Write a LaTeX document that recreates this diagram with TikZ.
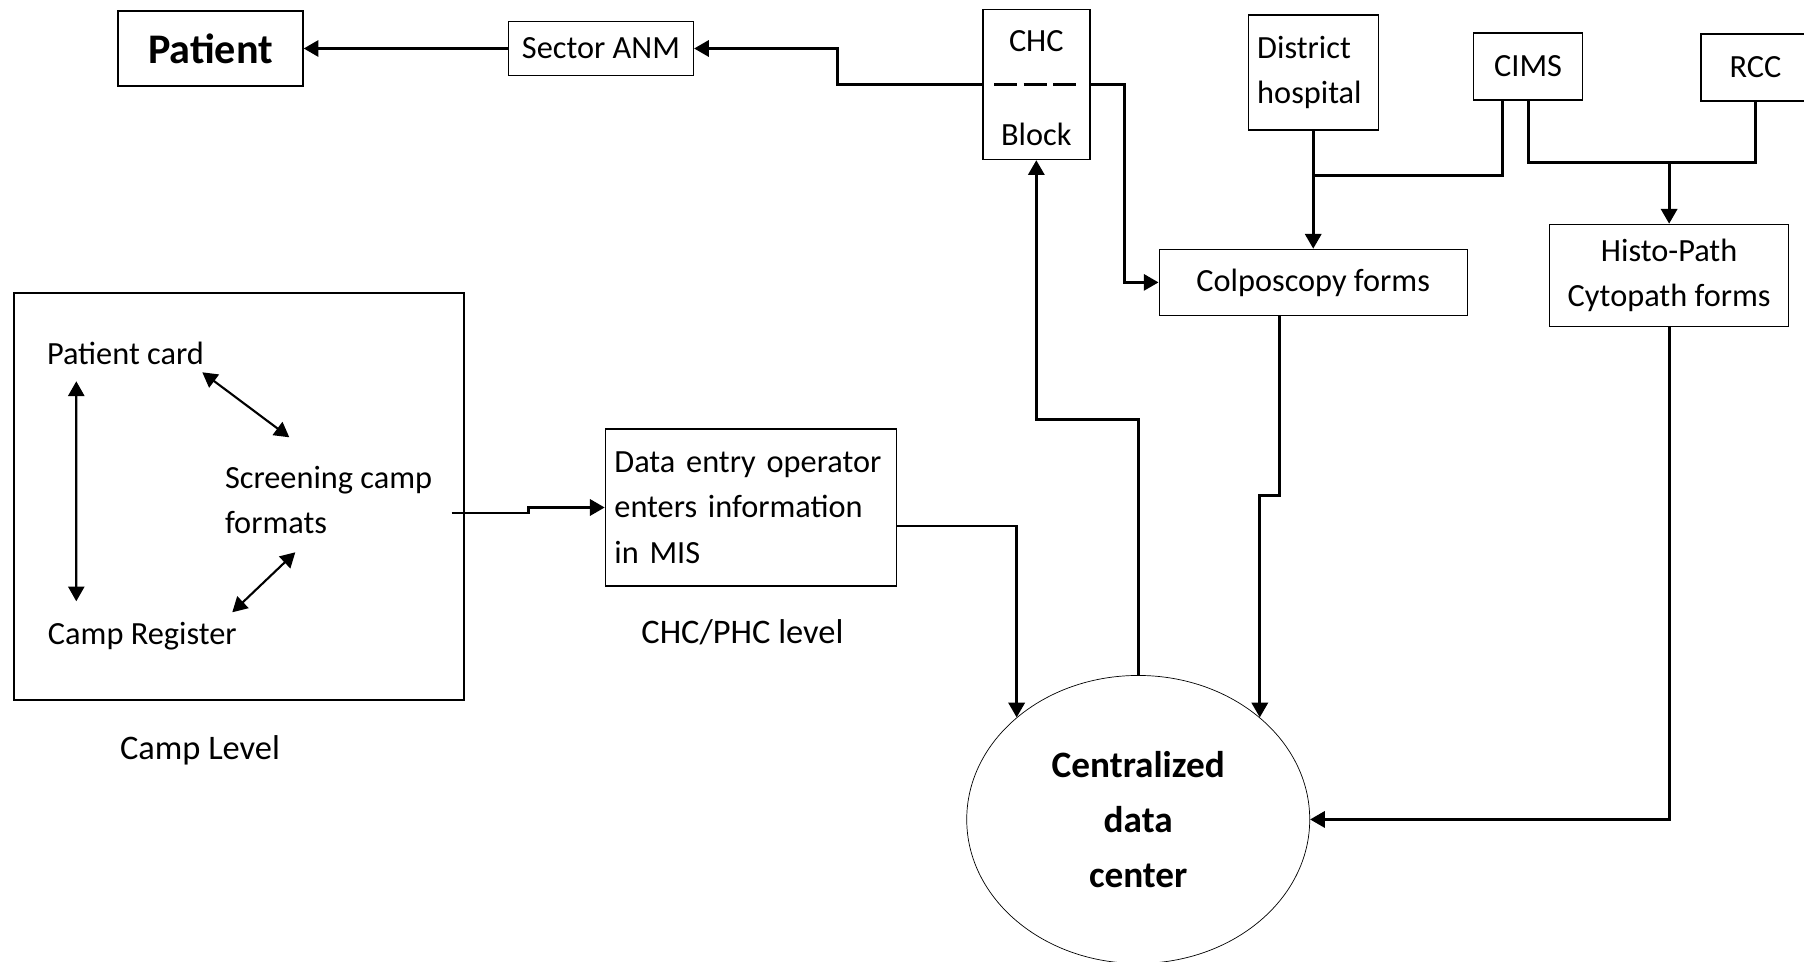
\documentclass[tikz,border=0pt]{standalone}
\usepackage{fontspec}
\setmainfont{Carlito}
\usetikzlibrary{shapes.geometric, arrows.meta, positioning}

\begin{document}
\begin{tikzpicture}[
    node distance=1cm,
    font=\fontsize{9.2}{12.7}\selectfont,
    >={Triangle[length=4.2pt,width=4.6pt]},
    box/.style={draw, thin, align=center, inner sep=0.5mm},
    txt/.style={inner sep=0pt, anchor=west, align=left},
    lvl/.style={font=\fontsize{9.8}{12}\selectfont},
    link/.style={thick},
    arrow/.style={->, thick},
    dblarrow/.style={<->, semithick}
]
\useasboundingbox (0,0) rectangle (18.04,-9.62);

% --- Top row ---
\node (patient) [box, minimum width=1.85cm, minimum height=0.75cm, font=\fontsize{12}{14}\selectfont\bfseries] at (2.105,-0.485) {Patient};
\node (sector) [box, minimum width=1.85cm, minimum height=0.54cm, right=2.04cm of patient] {Sector ANM};
\node (chc) [box, minimum width=1.07cm, minimum height=1.50cm, right=2.88cm of sector, yshift=-3.6mm] {};
\node (chctop) at ([yshift=4.3mm]chc.center) {CHC};
\node (chcbot) at ([yshift=-5mm]chc.center) {Block};
\node (district) [box, text width=1.12cm, align=left, minimum width=1.30cm, minimum height=1.15cm, right=1.57cm of chc, yshift=1.2mm] {District\\hospital};
\node (cims) [box, minimum width=1.09cm, minimum height=0.67cm, right=0.94cm of district, yshift=0.6mm] {CIMS};
\node (rcc) [box, minimum width=1.09cm, minimum height=0.67cm, right=1.17cm of cims, yshift=-0.1mm] {RCC};

% --- Forms ---
\node (colpo) [box, minimum width=3.08cm, minimum height=0.66cm, below=1.18cm of district] {Colposcopy forms};
\node (histo) [box, minimum width=2.39cm, minimum height=1.02cm, right=0.81cm of colpo, yshift=0.7mm] {Histo-Path\\Cytopath forms};

% --- Camp level ---
\node (camp) [box, minimum width=4.50cm, minimum height=4.07cm] at (2.39,-4.965) {};
\node (pcard) [txt] at ([shift={(0.33,-0.61)}]camp.north west) {Patient card};
\node (screen) [txt] at ([shift={(2.11,-2.08)}]camp.north west) {Screening camp\\formats};
\node (register) [txt] at ([shift={(0.34,-3.44)}]camp.north west) {Camp Register};
\node (camplevel) [lvl, below=0.22cm of camp, xshift=-3.9mm] {Camp Level};

% --- CHC/PHC level ---
\node (data) [box, text width=2.73cm, align=left, minimum width=2.91cm, minimum height=1.57cm, right=1.40cm of camp, yshift=-1.1mm, font=\fontsize{9.2}{13}\selectfont] {Data entry operator\\enters information\\in MIS};
\node (phclevel) [lvl, below=0.2cm of data, xshift=-0.85mm] {CHC/PHC level};

% --- Data center ---
\node (cdc) [draw, very thin, ellipse, minimum width=3.43cm, minimum height=2.88cm, inner sep=0pt, align=center, font=\fontsize{10.6}{15.6}\selectfont\bfseries, below=3.59cm of colpo, xshift=-17.5mm] {Centralized\\data\\center};

% --- Arrows ---
\draw[arrow] (sector) -- (patient);
\draw[arrow] (chc.west) -- ++(-1.45,0) |- (sector.east);
\draw[thick, dash pattern=on 2.3mm off 0.65mm] ([xshift=1.2mm]chc.west) -- ([xshift=-1.1mm]chc.east);
\draw[arrow] (chc.east) -- ++(0.34,0) |- (colpo.west);
\draw[arrow] (district) -- (colpo);
\coordinate (dj) at ([yshift=-4.5mm]district.south);
\draw[link] ([xshift=-2.55mm]cims.south) |- (dj);
\coordinate (hj) at ([yshift=6.1mm]histo.north);
\draw[link] (cims.south) |- (hj) -| (rcc.south);
\draw[arrow] (hj) -- (histo.north);
\draw[arrow] ([xshift=-3.4mm]colpo.south) -- ++(0,-1.79) -| (cdc.40);
\draw[arrow] (histo.south) |- (cdc.east);
\draw[arrow] ([yshift=-1.85mm]data.east) -| (cdc.140);
\draw[arrow] (cdc.north) -- ++(0,2.56) -| (chc.south);
\coordinate (campout) at ([shift={(-1.3mm,-1.65mm)}]camp.east);
\draw[arrow] (campout) -- ++(0.77,0) |- (data.west);

% --- Inside the camp box ---
\draw[dblarrow] ([shift={(0.30,-0.28)}]pcard.west) -- ([shift={(0.29,0.35)}]register.west);
\draw[dblarrow] ([shift={(1.56,-0.19)}]pcard.west) -- ([shift={(0.65,0.63)}]screen.west);
\draw[dblarrow] ([shift={(0.71,-0.52)}]screen.west) -- ([shift={(1.85,0.24)}]register.west);

\end{tikzpicture}
\end{document}
